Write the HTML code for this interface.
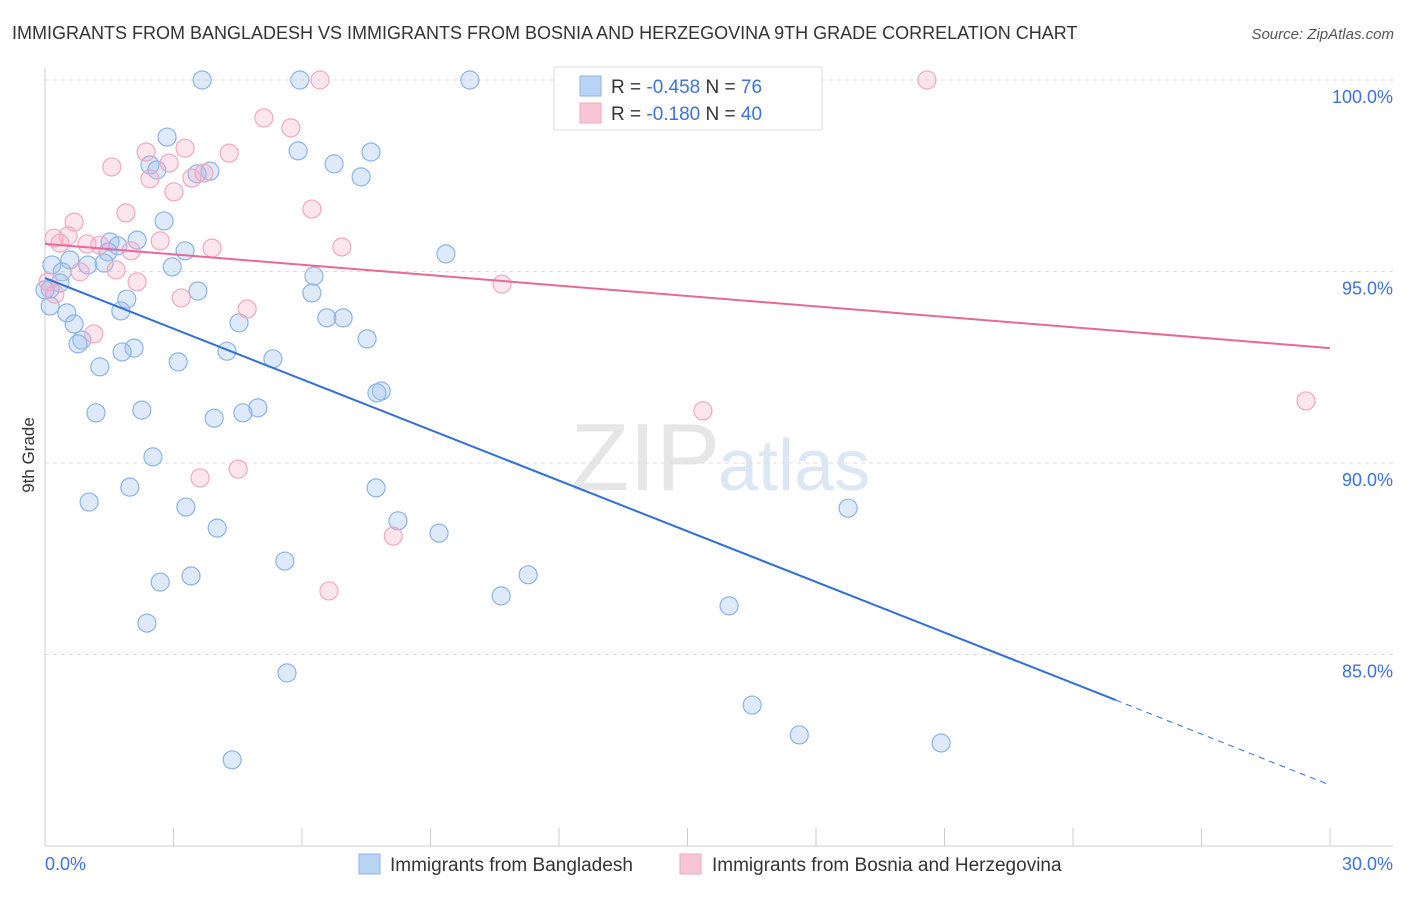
<!DOCTYPE html>
<html><head><meta charset="utf-8"><style>
body{margin:0;background:#fff;font-family:"Liberation Sans",sans-serif;}
svg text{font-family:"Liberation Sans",sans-serif;}
</style></head><body>
<svg id="chart" width="1406" height="892" xmlns="http://www.w3.org/2000/svg">
<text x="12" y="39" font-size="18" fill="#333">IMMIGRANTS FROM BANGLADESH VS IMMIGRANTS FROM BOSNIA AND HERZEGOVINA 9TH GRADE CORRELATION CHART</text>
<text x="1394" y="39" font-size="15" fill="#555" text-anchor="end" font-style="italic">Source: ZipAtlas.com</text>
<text x="720" y="490" font-size="96" fill="#e6e6e6" text-anchor="end" font-family="Liberation Serif">ZIP</text>
<text x="718" y="490" font-size="72" fill="#dbe7f5">atlas</text>
<g id="grid"></g><g id="axes"></g><g id="pts"></g><g id="lines"></g>
<text transform="translate(34,455) rotate(-90)" font-size="17" fill="#333" text-anchor="middle">9th Grade</text>
<text x="45" y="870" font-size="18" fill="#3d72d6">0.0%</text>
<text x="1393" y="870" font-size="18" fill="#3d72d6" text-anchor="end">30.0%</text>
<g>
<rect x="554" y="67" width="268" height="63" fill="#fff" stroke="#ddd"/>
<rect x="580" y="76" width="21" height="20" fill="#b8d3f4" stroke="#8ab4e8"/>
<rect x="580" y="103" width="21" height="20" fill="#f8c5d5" stroke="#f0a8c0"/>
<text x="611" y="93" font-size="19" fill="#333">R = <tspan fill="#3d72d6">-0.458</tspan>   N =  <tspan fill="#3d72d6">76</tspan></text>
<text x="611" y="120" font-size="19" fill="#333">R =  <tspan fill="#3d72d6">-0.180</tspan>   N = <tspan fill="#3d72d6">40</tspan></text>
</g>
<g>
<rect x="359" y="854" width="21" height="20" fill="#b8d3f4" stroke="#8ab4e8"/>
<text x="390" y="871" font-size="19" fill="#333">Immigrants from Bangladesh</text>
<rect x="680" y="854" width="21" height="20" fill="#f8c5d5" stroke="#f0a8c0"/>
<text x="712" y="871" font-size="19" fill="#333">Immigrants from Bosnia and Herzegovina</text>
</g>
</svg>
<script>
const yTicks=[100,95,90,85];
const yTickLabels=["100.0%","95.0%","90.0%","85.0%"];
const xTicks=[0,3,6,9,12,15,18,21,24,27,30];
const blueX=[3.67,5.95,9.92,2.85,5.91,7.61,6.75,2.45,2.61,3.85,7.38,3.55,2.78,2.15,1.52,1.70,1.47,3.27,9.36,0.58,1.00,1.38,0.16,2.97,0.40,6.28,0.35,0.12,3.57,6.23,1.91,1.77,0.51,0.68,6.58,6.96,4.53,0.86,0.77,7.52,2.08,1.80,4.25,5.32,3.11,1.28,7.85,7.75,4.97,2.26,1.19,4.62,3.95,2.52,1.98,7.73,1.03,3.29,18.75,8.24,4.02,9.20,5.60,11.28,3.41,2.69,10.65,15.97,2.38,5.65,16.51,17.61,20.92,4.37,0.12,0.0];
const blueY=[100,100,100,98.51,98.15,98.12,97.81,97.78,97.65,97.62,97.47,97.55,96.32,95.82,95.77,95.67,95.51,95.54,95.46,95.30,95.17,95.22,95.17,95.12,94.99,94.88,94.70,94.54,94.49,94.44,94.28,93.97,93.92,93.63,93.79,93.79,93.66,93.21,93.11,93.24,93.00,92.90,92.92,92.72,92.64,92.51,91.88,91.83,91.44,91.38,91.31,91.31,91.17,90.16,89.37,89.35,88.98,88.85,88.82,88.49,88.30,88.17,87.44,87.08,87.05,86.89,86.53,86.27,85.82,84.52,83.68,82.90,82.69,82.25,94.10,94.52];
const pinkX=[6.42,20.59,5.11,5.74,1.56,2.36,3.27,4.30,2.90,2.45,3.43,3.71,3.01,6.23,1.89,0.68,0.21,0.54,0.35,2.69,0.98,3.90,6.93,1.28,2.01,1.66,0.82,2.15,10.67,3.18,4.72,1.14,15.36,29.44,4.51,3.62,8.13,6.63,0.07,0.23];
const pinkY=[100,100,99.01,98.75,97.73,98.12,98.22,98.09,97.83,97.42,97.44,97.57,97.08,96.63,96.53,96.29,95.87,95.93,95.74,95.80,95.72,95.61,95.64,95.69,95.54,95.04,94.99,94.73,94.67,94.31,94.02,93.37,91.36,91.62,89.84,89.61,88.09,86.66,94.73,94.41];
const blueTrend=[[0,94.83],[25,83.81]];
const blueDash=[[25,83.81],[30,81.59]];
const pinkTrend=[[0,95.72],[30,93.0]];
const NS="http://www.w3.org/2000/svg";
const X=v=>45+v/30*1285;
const Y=v=>80+(100-v)*38.3;
function mk(tag,attrs,parent){const e=document.createElementNS(NS,tag);for(const k in attrs)e.setAttribute(k,attrs[k]);document.getElementById(parent).appendChild(e);return e;}
yTicks.forEach((t,i)=>{
 const l=mk('line',{x1:45,x2:1393,y1:Y(t),y2:Y(t),stroke:'#ddd','stroke-dasharray':'4,4'},'grid');
 
 
 const tx=mk('text',{x:1393,y:Y(t)+23,'font-size':18,fill:'#3d72d6','text-anchor':'end'},'grid');
 tx.textContent=yTickLabels[i];
 
 
});
const ax=mk('line',{x1:45,x2:45,y1:68,y2:846,stroke:'#ccc'},'axes');


const bx=mk('line',{x1:45,x2:1393,y1:846,y2:846,stroke:'#ccc'},'axes');


xTicks.forEach(t=>{
 const l=mk('line',{x1:X(t),x2:X(t),y1:828,y2:846,stroke:'#ccc'},'axes');
 
 
});
blueX.forEach((v,i)=>{
 const c=mk('circle',{cx:X(v),cy:Y(blueY[i]),r:9,fill:'rgba(160,196,240,0.35)',stroke:'#8ab4e8','stroke-width':1.2},'pts');
 
 
});
pinkX.forEach((v,i)=>{
 const c=mk('circle',{cx:X(v),cy:Y(pinkY[i]),r:9,fill:'rgba(244,170,195,0.3)',stroke:'#f0a8c0','stroke-width':1.2},'pts');
 
 
});
const t1=mk('line',{x1:X(blueTrend[0][0]),y1:Y(blueTrend[0][1]),x2:X(blueTrend[1][0]),y2:Y(blueTrend[1][1]),stroke:'#2f6fd8','stroke-width':2},'lines');


const t2=mk('line',{x1:X(blueDash[0][0]),y1:Y(blueDash[0][1]),x2:X(blueDash[1][0]),y2:Y(blueDash[1][1]),stroke:'#2f6fd8','stroke-width':1,'stroke-dasharray':'6,5'},'lines');


const t3=mk('line',{x1:X(pinkTrend[0][0]),y1:Y(pinkTrend[0][1]),x2:X(pinkTrend[1][0]),y2:Y(pinkTrend[1][1]),stroke:'#e8689a','stroke-width':2},'lines');


</script>
</body></html>
